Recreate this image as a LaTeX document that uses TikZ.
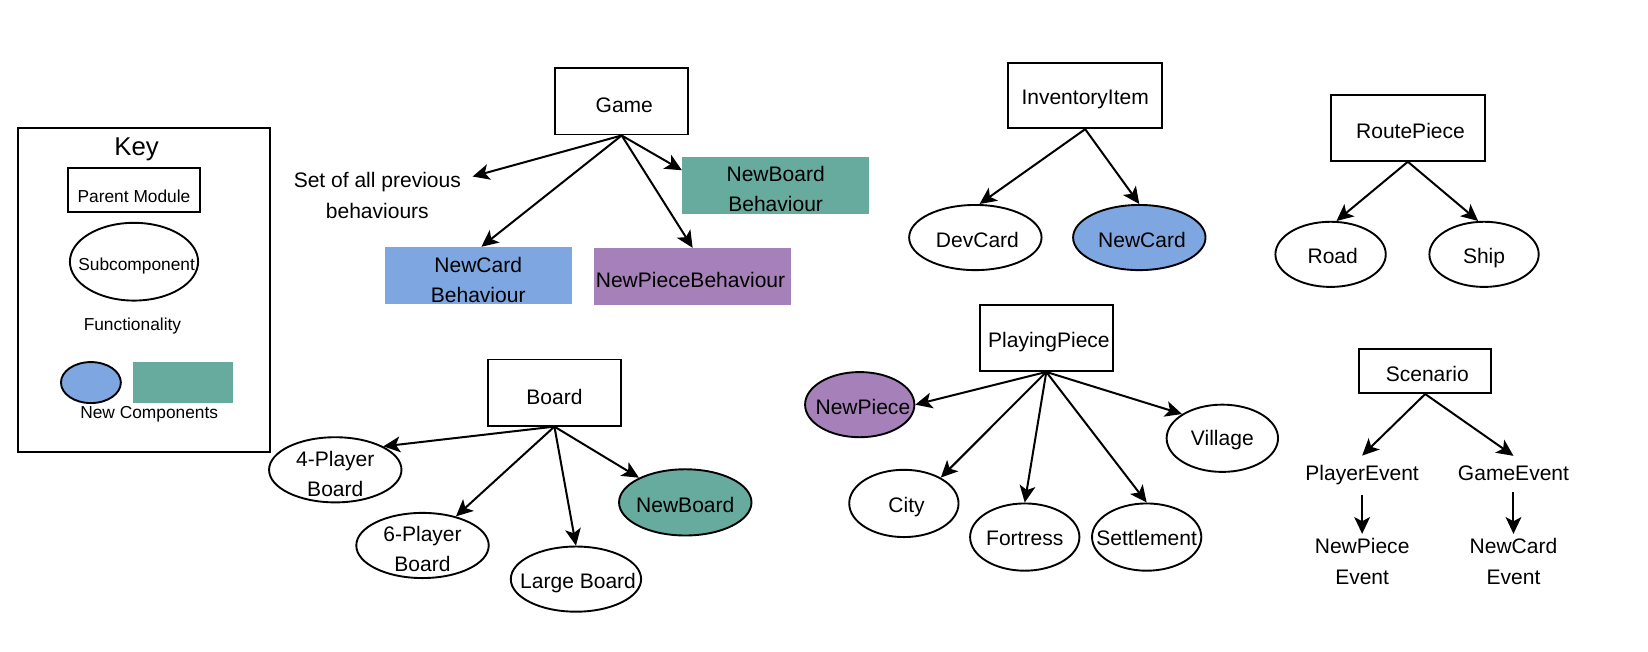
\documentclass[tikz,border=0pt]{standalone}
\usepackage{fontspec}
\setmainfont{Liberation Sans}
\usetikzlibrary{arrows.meta,shapes.geometric}
\definecolor{cteal}{HTML}{67AB9F}
\definecolor{cblue}{HTML}{7EA6E0}
\definecolor{cpurple}{HTML}{A680B8}
\begin{document}
\begin{tikzpicture}[x=1pt,y=-1pt,
 rbox/.style={draw, line width=1.8pt, rectangle, inner sep=0pt},
 ell/.style={draw, line width=1.8pt, ellipse, inner sep=0pt},
 frect/.style={rectangle, inner sep=0pt},
 tx/.style={font=\fontsize{20}{29}\selectfont, align=center, inner sep=0pt},
 ktx/.style={font=\fontsize{16.5}{20}\selectfont, align=center, inner sep=0pt},
 arr/.style={-{Stealth[length=16pt,width=15pt,inset=4pt]}, line width=1.9pt},
]
\useasboundingbox (0,0) rectangle (1568,620);

% ---- Key ----
\node[rbox, minimum width=240pt, minimum height=308pt] (keybox) at (137,276) {};
\node[font=\fontsize{24.5}{28}\selectfont, inner sep=0pt] (keytitle) at (130,142) {Key};
\node[rbox, minimum width=125pt, minimum height=42pt, label={[ktx,yshift=-5.5pt]center:Parent Module}] (keyparent) at (127.5,181) {};
\node[ell, minimum width=122pt, minimum height=74pt, label={[ktx,xshift=2.5pt,yshift=-4pt]center:Subcomponent}] (keysub) at (127.5,249) {};
\node[ktx] (keyfunc) at (126,310) {Functionality};
\node[ell, fill=cblue, minimum width=57pt, minimum height=39pt] (keynewell) at (86.5,364) {};
\node[frect, fill=cteal, minimum width=95pt, minimum height=39pt] (keynewrect) at (174,364) {};
\node[ktx] (keynew) at (142,394) {New Components};

% ---- Game ----
\node[rbox, minimum width=127pt, minimum height=63pt, label={[tx,xshift=2.5pt,yshift=-3.5pt]center:Game}] (game) at (591.5,96.5) {};
\node[tx] (setprev) at (359,186) {Set of all previous\\behaviours};
\node[frect, fill=cteal, minimum width=178pt, minimum height=55pt, label={[tx,yshift=-3.5pt]center:{NewBoard\\Behaviour}}] (nbb) at (738,176.5) {};
\node[frect, fill=cblue, minimum width=178pt, minimum height=54pt, label={[tx,yshift=-4.5pt]center:{NewCard\\Behaviour}}] (ncb) at (455,262) {};
\node[frect, fill=cpurple, minimum width=188pt, minimum height=54pt, label={[tx,xshift=-2pt,yshift=-3pt]center:NewPieceBehaviour}] (npb) at (659,263) {};
\draw[arr] (game.south) -- ([xshift=11pt,yshift=-4pt]setprev.north east);
\draw[arr] (game.south) -- ([yshift=14.5pt]nbb.west);
\draw[arr] (game.south) -- ([xshift=3pt]ncb.north);
\draw[arr] (game.south) -- (npb.north);

% ---- Board ----
\node[rbox, minimum width=127pt, minimum height=63pt, label={[tx,yshift=-4pt]center:Board}] (board) at (527.5,373.5) {};
\node[ell, minimum width=126pt, minimum height=62pt, label={[tx,yshift=-4pt]center:{4-Player\\Board}}] (p4) at (319,447) {};
\node[ell, minimum width=126pt, minimum height=62pt, label={[tx,yshift=-3.5pt]center:{6-Player\\Board}}] (p6) at (402,519) {};
\node[ell, minimum width=124pt, minimum height=62pt, label={[tx,xshift=2pt,yshift=-4pt]center:Large Board}] (lb) at (548,551) {};
\node[ell, fill=cteal, minimum width=126pt, minimum height=63pt, label={[tx,yshift=-2.5pt]center:NewBoard}] (nbd) at (652,478) {};
\draw[arr] (board.south) -- (p4.26);
\draw[arr] (board.south) -- (p6.41);
\draw[arr] (board.south) -- (lb.north);
\draw[arr] (board.south) -- (nbd.152);

% ---- InventoryItem ----
\node[rbox, minimum width=147pt, minimum height=62pt, label={[tx,yshift=-4pt]center:InventoryItem}] (inv) at (1032.5,91) {};
\node[ell, minimum width=126pt, minimum height=62pt, label={[tx,xshift=2pt,yshift=-2.5pt]center:DevCard}] (dev) at (928,226) {};
\node[ell, fill=cblue, minimum width=126pt, minimum height=62pt, label={[tx,xshift=2.5pt,yshift=-2.5pt]center:NewCard}] (ncd) at (1084,226) {};
\draw[arr] (inv.south) -- ([xshift=4pt]dev.north);
\draw[arr] (inv.south) -- (ncd.north);

% ---- RoutePiece ----
\node[rbox, minimum width=147pt, minimum height=63pt, label={[tx,xshift=2.5pt,yshift=-3.5pt]center:RoutePiece}] (route) at (1339.5,121.5) {};
\node[ell, minimum width=105pt, minimum height=62pt, label={[tx,xshift=2pt,yshift=-1.5pt]center:Road}] (road) at (1266,242) {};
\node[ell, minimum width=104pt, minimum height=62pt, label={[tx,yshift=-3.5pt]center:Ship}] (ship) at (1412,242) {};
\draw[arr] (route.south) -- (road.80);
\draw[arr] (route.south) -- (ship.100);

% ---- PlayingPiece ----
\node[rbox, minimum width=127pt, minimum height=63pt, label={[tx,xshift=2.5pt,yshift=-3.5pt]center:PlayingPiece}] (pp) at (995.5,321.5) {};
\node[ell, fill=cpurple, minimum width=104pt, minimum height=62pt, label={[tx,xshift=3pt,yshift=-2pt]center:NewPiece}] (npc) at (818,385) {};
\node[ell, minimum width=104pt, minimum height=64pt, label={[tx,xshift=2.5pt,yshift=-3.5pt]center:City}] (city) at (860,479) {};
\node[ell, minimum width=104pt, minimum height=64pt, label={[tx,yshift=-1pt]center:Fortress}] (fort) at (975,511) {};
\node[ell, minimum width=104pt, minimum height=64pt, label={[tx,yshift=-1pt]center:Settlement}] (settle) at (1091,511) {};
\node[ell, minimum width=106pt, minimum height=64pt, label={[tx,yshift=-1.5pt]center:Village}] (vill) at (1163,417) {};
\draw[arr] (pp.south) -- (npc.east);
\draw[arr] (pp.south) -- (city.35);
\draw[arr] (pp.south) -- (fort.north);
\draw[arr] (pp.south) -- (settle.north);
\draw[arr] (pp.south) -- (vill.149);

% ---- Scenario ----
\node[rbox, minimum width=126pt, minimum height=42pt, label={[tx,xshift=2pt,yshift=-3pt]center:Scenario}] (scen) at (1356,353) {};
\node[tx, inner ysep=9pt] (pev) at (1296,452) {PlayerEvent};
\node[tx, inner ysep=9pt] (gev) at (1440,450) {GameEvent};
\node[tx, inner ysep=4pt] (npe) at (1296,534) {NewPiece\\Event};
\node[tx, inner ysep=4pt] (nce) at (1440,534) {NewCard\\Event};
\draw[arr] (scen.south) -- (pev.north);
\draw[arr] (scen.south) -- (gev.north);
\draw[arr] (pev.south) -- (npe.north);
\draw[arr] ([yshift=-2pt]gev.south) -- (nce.north);
\end{tikzpicture}
\end{document}
